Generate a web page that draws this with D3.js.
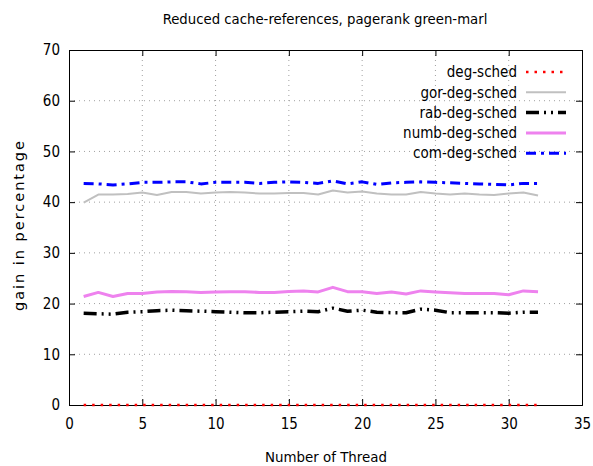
<!DOCTYPE html>
<html><head><meta charset="utf-8">
<script src="https://cdn.jsdelivr.net/npm/d3@7"></script>
<style>body{margin:0;background:#fff}svg text{font-family:"DejaVu Sans Condensed","DejaVu Sans",sans-serif;}</style>
</head><body><svg id="c" width="593" height="466"></svg>
<script>
const threads = d3.range(1, 33);
const degSched = threads.map(() => 0);
const gorDegSched = [39.9,41.5,41.5,41.6,41.9,41.4,42.0,42.0,41.7,41.9,42.0,41.9,41.7,41.7,41.8,41.8,41.5,42.3,41.9,42.1,41.7,41.5,41.5,42.0,41.7,41.5,41.7,41.5,41.4,41.7,41.9,41.3];
const rabDegSched = [18.1,18.0,17.9,18.3,18.4,18.6,18.7,18.6,18.5,18.4,18.3,18.2,18.2,18.3,18.4,18.5,18.4,19.1,18.5,18.7,18.3,18.2,18.2,18.9,18.7,18.2,18.2,18.2,18.2,18.1,18.3,18.3];
const numbDegSched = [21.4,22.2,21.4,22.0,22.0,22.3,22.4,22.35,22.2,22.3,22.35,22.35,22.2,22.2,22.4,22.5,22.3,23.2,22.35,22.35,22.0,22.3,21.9,22.5,22.3,22.15,22.0,22.0,22.0,21.75,22.5,22.35];
const comDegSched = [43.7,43.6,43.4,43.6,43.9,43.9,44.0,44.0,43.6,43.9,43.9,43.9,43.7,43.9,44.0,43.9,43.7,44.2,43.6,44.0,43.5,43.8,43.9,44.0,43.9,43.8,43.7,43.6,43.5,43.4,43.7,43.7];
const xTicks = [0,5,10,15,20,25,30,35];
const yTicks = [0,10,20,30,40,50,60,70];

const seriesNames = ["deg-sched","gor-deg-sched","rab-deg-sched","numb-deg-sched","com-deg-sched"];
const seriesData = [degSched, gorDegSched, rabDegSched, numbDegSched, comDegSched];
const styles = [
  {color:"#ff0000", width:2.5, dash:"2.5,6"},
  {color:"#c0c0c0", width:2, dash:null},
  {color:"#000000", width:3.5, dash:"13,5,2,5,2,5"},
  {color:"#ee82ee", width:3, dash:null},
  {color:"#0000ff", width:3, dash:"10,5,3,5"}
];

const svg = d3.select("#c");
const L=69, R=582, T=50, B=405;
const x = d3.scaleLinear().domain([0,35]).range([L,R]);
const y = d3.scaleLinear().domain([0,70]).range([B,T]);

function fit(sel, target){
  const fs = +sel.attr("font-size");
  const len = sel.node().getComputedTextLength();
  if (len > 0) sel.attr("font-size", fs*target/len);
}

// grid
const g = svg.append("g");
xTicks.slice(1,-1).forEach(t=>g.append("line").attr("x1",x(t)).attr("x2",x(t)).attr("y1",T).attr("y2",B)
  .attr("stroke","#a0a0a0").attr("stroke-width",1).attr("stroke-dasharray","1,4"));
yTicks.slice(1,-1).forEach(t=>g.append("line").attr("x1",L).attr("x2",R).attr("y1",y(t)).attr("y2",y(t))
  .attr("stroke","#a0a0a0").attr("stroke-width",1).attr("stroke-dasharray","1,4"));

// axes
svg.append("g").attr("transform",`translate(0,${B})`).call(d3.axisBottom(x).tickValues(xTicks).tickSize(-6).tickPadding(13));
svg.append("g").attr("transform",`translate(${L},0)`).call(d3.axisLeft(y).tickValues(yTicks).tickSize(-6).tickPadding(9));
svg.append("g").attr("transform",`translate(0,${T})`).call(d3.axisTop(x).tickValues(xTicks).tickSize(-6).tickFormat(""));
svg.append("g").attr("transform",`translate(${R},0)`).call(d3.axisRight(y).tickValues(yTicks).tickSize(-6).tickFormat(""));
svg.selectAll(".domain").attr("stroke","#000").attr("stroke-width",1);
svg.selectAll(".tick line").attr("stroke","#000");
svg.selectAll(".tick text").attr("font-size",15).attr("fill","#000").style("font-family","'DejaVu Sans Condensed','DejaVu Sans',sans-serif");

// lines
const line = d3.line().x((d,i)=>x(threads[i])).y(d=>y(d));
seriesData.forEach((s,k)=>{
  svg.append("path").datum(s).attr("d",line).attr("fill","none")
    .attr("stroke",styles[k].color).attr("stroke-width",styles[k].width)
    .attr("stroke-dasharray",styles[k].dash).attr("stroke-linejoin","round");
});

// legend
seriesNames.forEach((n,k)=>{
  const yy = 72 + k*20.3;
  svg.append("text").attr("x",517).attr("y",yy).attr("dy","0.35em").attr("text-anchor","end")
    .attr("font-size",15).text(n);
  svg.append("line").attr("x1",526).attr("x2",566).attr("y1",yy).attr("y2",yy)
    .attr("stroke",styles[k].color).attr("stroke-width",styles[k].width).attr("stroke-dasharray",styles[k].dash);
});

// titles
fit(svg.append("text").attr("x",325).attr("y",24).attr("text-anchor","middle").attr("font-size",14).text("Reduced cache-references, pagerank green-marl"), 325);
fit(svg.append("text").attr("x",326).attr("y",462).attr("text-anchor","middle").attr("font-size",15).text("Number of Thread"), 122);
svg.append("text").attr("transform","translate(24,226) rotate(-90)").attr("text-anchor","middle").attr("font-size",14.5)
  .style("font-family","'DejaVu Sans',sans-serif").attr("textLength",170).attr("lengthAdjust","spacing").text("gain in percentage");
</script></body></html>
